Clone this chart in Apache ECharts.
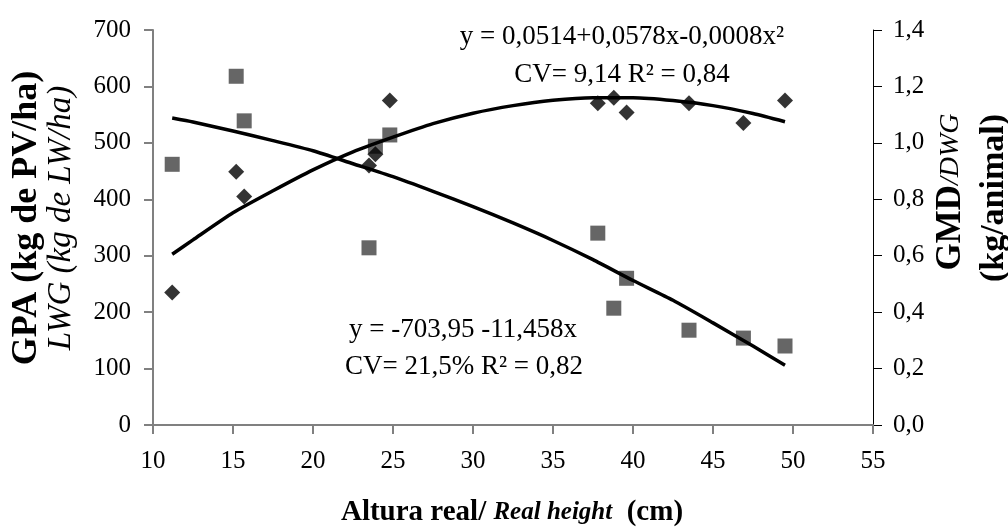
<!DOCTYPE html>
<html>
<head>
<meta charset="utf-8">
<script src="https://cdn.jsdelivr.net/npm/echarts@6/dist/echarts.min.js"></script>
<style>
html,body{margin:0;padding:0;background:#fff;}
#chart{width:1008px;height:529px;}
</style>
</head>
<body>
<div id="chart"></div>
<script>
// Observed data: GPA (left axis, squares) and GMD (right axis, diamonds)
const heightSquares = [11.2, 15.2, 15.7, 23.5, 23.9, 24.8, 37.8, 38.8, 39.6, 43.5, 46.9, 49.5];
const gpaValues     = [462, 618, 539, 314, 494, 514, 340, 207, 260, 168, 154, 140];
const heightDiamonds = [11.2, 15.2, 15.7, 23.5, 23.9, 24.8, 37.8, 38.8, 39.6, 43.5, 46.9, 49.5];
const gmdValues      = [0.47, 0.898, 0.81, 0.92, 0.96, 1.15, 1.14, 1.16, 1.108, 1.14, 1.07, 1.15];
// Fitted curves
const fitHeights = [11.2, 12.5, 15, 17.5, 20, 22.5, 25, 27.5, 30, 32.5, 35, 37.5, 40, 42.5, 45, 47.5, 49.5];
const gpaFit     = [544, 537, 521, 504, 486, 463, 440, 414, 387, 358, 327, 293, 256, 221, 181, 140, 106];
const gmdFit     = [0.605, 0.656, 0.752, 0.830, 0.904, 0.968, 1.020, 1.068, 1.105, 1.132, 1.151, 1.160, 1.160, 1.150, 1.132, 1.104, 1.075];
// Axis settings
const xTicks = {min: 10, max: 55, interval: 5};
const leftTicks = {min: 0, max: 700, interval: 100};
const rightTicks = {min: 0, max: 1.4, interval: 0.2};

const FONT = 'Liberation Serif';
const pair = (xs, ys) => xs.map((x, i) => [x, ys[i]]);

const chart = echarts.init(document.getElementById('chart'), null, {renderer: 'canvas'});
chart.setOption({
  animation: false,
  backgroundColor: '#ffffff',
  grid: {left: 153, right: 135, top: 30, bottom: 104, containLabel: false},
  xAxis: {
    type: 'value', min: xTicks.min, max: xTicks.max, interval: xTicks.interval,
    axisLine: {show: true, lineStyle: {color: '#808080', width: 2}},
    axisTick: {show: true, length: 9, lineStyle: {color: '#808080', width: 2}},
    axisLabel: {margin: 24, color: '#000', fontFamily: FONT, fontSize: 25},
    splitLine: {show: false}
  },
  yAxis: [{
    type: 'value', position: 'left', min: leftTicks.min, max: leftTicks.max, interval: leftTicks.interval,
    axisLine: {show: true, lineStyle: {color: '#808080', width: 2}},
    axisTick: {show: true, length: 9, lineStyle: {color: '#808080', width: 2}},
    axisLabel: {margin: 22, color: '#000', fontFamily: FONT, fontSize: 25},
    splitLine: {show: false}
  }, {
    type: 'value', position: 'right', min: rightTicks.min, max: rightTicks.max, interval: rightTicks.interval,
    axisLine: {show: true, lineStyle: {color: '#000', width: 1}},
    axisTick: {show: true, length: 9, lineStyle: {color: '#000', width: 1}},
    axisLabel: {margin: 20, color: '#000', fontFamily: FONT, fontSize: 25,
      formatter: v => v.toFixed(1).replace('.', ',')},
    splitLine: {show: false}
  }],
  series: [{
    type: 'scatter', yAxisIndex: 0, symbol: 'rect', symbolSize: 15,
    itemStyle: {color: '#404040'}, z: 2,
    data: pair(heightSquares, gpaValues)
  }, {
    type: 'scatter', yAxisIndex: 1, symbol: 'diamond', symbolSize: 16,
    itemStyle: {color: '#000'}, z: 3,
    data: pair(heightDiamonds, gmdValues)
  }, {
    type: 'line', yAxisIndex: 0, smooth: 0.2, showSymbol: false, symbol: 'none',
    lineStyle: {color: '#000', width: 3.5}, z: 4,
    data: pair(fitHeights, gpaFit)
  }, {
    type: 'line', yAxisIndex: 1, smooth: 0.2, showSymbol: false, symbol: 'none',
    lineStyle: {color: '#000', width: 3.5}, z: 4,
    data: pair(fitHeights, gmdFit)
  }],
  graphic: [
    {type: 'text', x: 622, y: 37, z: 10, style: {text: 'y = 0,0514+0,0578x-0,0008x²', font: '27px "Liberation Serif"', fill: '#000', textAlign: 'center', textVerticalAlign: 'middle'}},
    {type: 'text', x: 622, y: 75, z: 10, style: {text: 'CV= 9,14 R² = 0,84', font: '27px "Liberation Serif"', fill: '#000', textAlign: 'center', textVerticalAlign: 'middle'}},
    {type: 'text', x: 463, y: 330, z: 10, style: {text: 'y = -703,95 -11,458x', font: '27px "Liberation Serif"', fill: '#000', textAlign: 'center', textVerticalAlign: 'middle'}},
    {type: 'text', x: 464, y: 367, z: 10, style: {text: 'CV= 21,5% R² = 0,82', font: '27px "Liberation Serif"', fill: '#000', textAlign: 'center', textVerticalAlign: 'middle'}},
    {type: 'text', x: 512, y: 513, z: 10, style: {
      text: '{b|Altura real/ }{bi|Real height}{b|  (cm)}',
      textAlign: 'center', textVerticalAlign: 'middle',
      rich: {
        b: {fontFamily: FONT, fontWeight: 'bold', fontSize: 29, fill: '#000', color: '#000'},
        bi: {fontFamily: FONT, fontWeight: 'bold', fontStyle: 'italic', fontSize: 25, fill: '#000', color: '#000'}
      }}},
    {type: 'text', x: 27, y: 218, rotation: Math.PI / 2, z: 10, style: {
      text: 'GPA (kg de PV/ha)', font: 'bold 36px "Liberation Serif"', fill: '#000', textAlign: 'center', textVerticalAlign: 'middle'}},
    {type: 'text', x: 61, y: 218, rotation: Math.PI / 2, z: 10, style: {
      text: 'LWG (kg de LW/ha)', font: 'italic 33px "Liberation Serif"', fill: '#000', textAlign: 'center', textVerticalAlign: 'middle'}},
    {type: 'text', x: 951, y: 192, rotation: Math.PI / 2, z: 10, style: {
      text: '{b|GMD}{i|/DWG}',
      textAlign: 'center', textVerticalAlign: 'middle',
      rich: {
        b: {fontFamily: FONT, fontWeight: 'bold', fontSize: 35, fill: '#000', color: '#000'},
        i: {fontFamily: FONT, fontStyle: 'italic', fontSize: 28, fill: '#000', color: '#000'}
      }}},
    {type: 'text', x: 994, y: 198, rotation: Math.PI / 2, z: 10, style: {
      text: '(kg/animal)', font: 'bold 34px "Liberation Serif"', fill: '#000', textAlign: 'center', textVerticalAlign: 'middle'}}
  ]
});
</script>
</body>
</html>
